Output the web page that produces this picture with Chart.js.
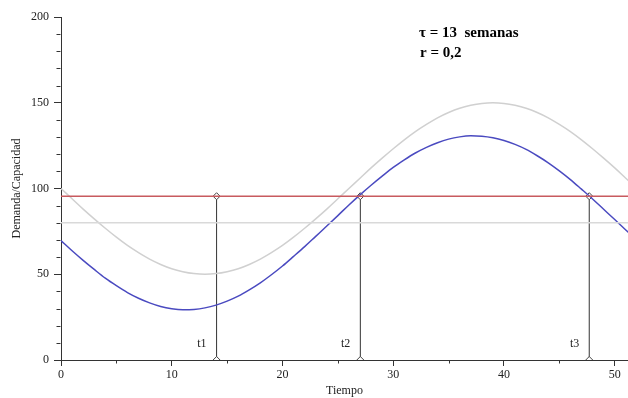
<!DOCTYPE html>
<html><head><meta charset="utf-8">
<script src="https://cdn.jsdelivr.net/npm/chart.js@4/dist/chart.umd.min.js"></script>
<style>html,body{margin:0;padding:0;background:#fff;}#wrap{width:628px;height:398px;position:relative;}</style>
</head><body><div id="wrap"><canvas id="c" width="628" height="398"></canvas></div>
<script>
const tiempo = [0,1,2,3,4,5,6,7,8,9,10,11,12,13,14,15,16,17,18,19,20,21,22,23,24,25,26,27,28,29,30,31,32,33,34,35,36,37,38,39,40,41,42,43,44,45,46,47,48,49,50,51,51.3];
const demanda = [100,94.0,88.0,82.3,76.8,71.6,66.8,62.6,58.8,55.7,53.2,51.5,50.4,50.0,50.4,51.5,53.2,55.7,58.8,62.6,66.8,71.6,76.8,82.3,88.0,94.0,100,106.0,112.0,117.7,123.2,128.4,133.2,137.4,141.2,144.3,146.8,148.5,149.6,150,149.6,148.5,146.8,144.3,141.2,137.4,133.2,128.4,123.2,117.7,112.0,106.0,104.2];
const capacidad = [69.6,63.7,58.1,52.8,47.7,43.3,39.3,36.0,33.3,31.2,29.9,29.3,29.5,30.4,32.0,34.3,37.2,40.9,45.0,49.7,54.8,60.4,66.1,72.1,78.1,84.2,90.4,96.3,101.9,107.2,112.3,116.7,120.7,124.0,126.7,128.8,130.1,130.7,130.5,129.6,128.0,125.7,122.8,119.1,115.0,110.3,105.2,99.6,93.9,87.9,81.9,75.8,74.0];
const nivelRojo = 95.5;
const nivelGris = 80;
const instantes = [14.05, 27.03, 47.7];
const etiquetasInstantes = ['t1','t2','t3'];
const xMin = 0, xMax = 51.2, yMin = 0, yMax = 200;
const anotacion = ['\u03C4 = 13  semanas', 'r = 0,2'];

const serif = "'Liberation Serif', 'DejaVu Serif', serif";
const axisColor = '#333';

const datasets = [
  {data:[{x:xMin,y:nivelGris},{x:xMax,y:nivelGris}], borderColor:'#d9d9d9', borderWidth:1.5, pointRadius:0},
  {data:[{x:xMin,y:nivelRojo},{x:xMax,y:nivelRojo}], borderColor:'#c85a5f', borderWidth:1.5, pointRadius:0},
  {data:tiempo.map((t,i)=>({x:t,y:demanda[i]})), borderColor:'#d0d0d0', borderWidth:1.5, pointRadius:0, cubicInterpolationMode:'monotone'},
  {data:tiempo.map((t,i)=>({x:t,y:capacidad[i]})), borderColor:'#4a4ac0', borderWidth:1.5, pointRadius:0, cubicInterpolationMode:'monotone'}
];
instantes.forEach(t=>{
  datasets.push({data:[{x:t,y:0},{x:t,y:nivelRojo}], borderColor:'#333', borderWidth:1,
    pointStyle:'rectRot', pointRadius:3.5, pointBackgroundColor:'#fff', pointBorderColor:'#444', pointBorderWidth:1});
});

const extras = {
  id:'extras',
  afterDraw(chart){
    const ctx = chart.ctx, xs = chart.scales.x, ys = chart.scales.y;
    ctx.save();
    ctx.strokeStyle = axisColor; ctx.lineWidth = 1;
    const y0 = Math.round(ys.getPixelForValue(0)) + 0.5;
    for (let v = 5; v <= 50; v += 10) {
      const px = Math.round(xs.getPixelForValue(v)) + 0.5;
      ctx.beginPath(); ctx.moveTo(px, y0); ctx.lineTo(px, y0 + 3); ctx.stroke();
    }
    const x0 = Math.round(xs.getPixelForValue(0)) - 0.5;
    for (let v = 10; v < 200; v += 10) {
      if (v % 50 === 0) continue;
      const py = Math.round(ys.getPixelForValue(v)) + 0.5;
      ctx.beginPath(); ctx.moveTo(x0, py); ctx.lineTo(x0 - 4, py); ctx.stroke();
    }
    ctx.fillStyle = '#222'; ctx.font = '12px ' + serif;
    ctx.textAlign = 'right'; ctx.textBaseline = 'middle';
    instantes.forEach((t,i)=>{
      ctx.fillText(etiquetasInstantes[i], xs.getPixelForValue(t) - 10, ys.getPixelForValue(0) - 16);
    });
    ctx.fillStyle = '#000'; ctx.font = 'bold 15px ' + serif;
    ctx.textAlign = 'left'; ctx.textBaseline = 'alphabetic';
    ctx.fillText(anotacion[0], 419, 37);
    ctx.fillText(anotacion[1], 420, 57);
    ctx.restore();
  }
};

new Chart(document.getElementById('c'), {
  type:'line',
  data:{datasets},
  options:{
    responsive:false, animation:false, devicePixelRatio:1,
    layout:{autoPadding:false, padding:{top:17,right:0,left:0,bottom:0}},
    plugins:{legend:{display:false}, tooltip:{enabled:false}},
    scales:{
      x:{type:'linear', min:xMin, max:xMax,
        afterFit(s){ s.height = 38; s.paddingLeft = 0; s.paddingRight = 0; },
        ticks:{stepSize:10, includeBounds:false, font:{family:serif,size:12}, color:'#222', padding:2, maxRotation:0},
        grid:{drawOnChartArea:false, drawTicks:true, tickLength:6, tickColor:axisColor},
        border:{display:true, color:axisColor, width:1},
        title:{display:true, text:'Tiempo', font:{family:serif,size:12}, color:'#222', padding:{top:0,bottom:0}}
      },
      y:{type:'linear', min:yMin, max:yMax,
        afterFit(s){ s.width = 61; },
        ticks:{stepSize:50, font:{family:serif,size:12}, color:'#222', padding:5},
        grid:{drawOnChartArea:false, drawTicks:true, tickLength:7, tickColor:axisColor},
        border:{display:true, color:axisColor, width:1},
        title:{display:true, text:'Demanda/Capacidad', font:{family:serif,size:12}, color:'#222', padding:{top:10,bottom:0}}
      }
    }
  },
  plugins:[extras]
});
</script></body></html>
